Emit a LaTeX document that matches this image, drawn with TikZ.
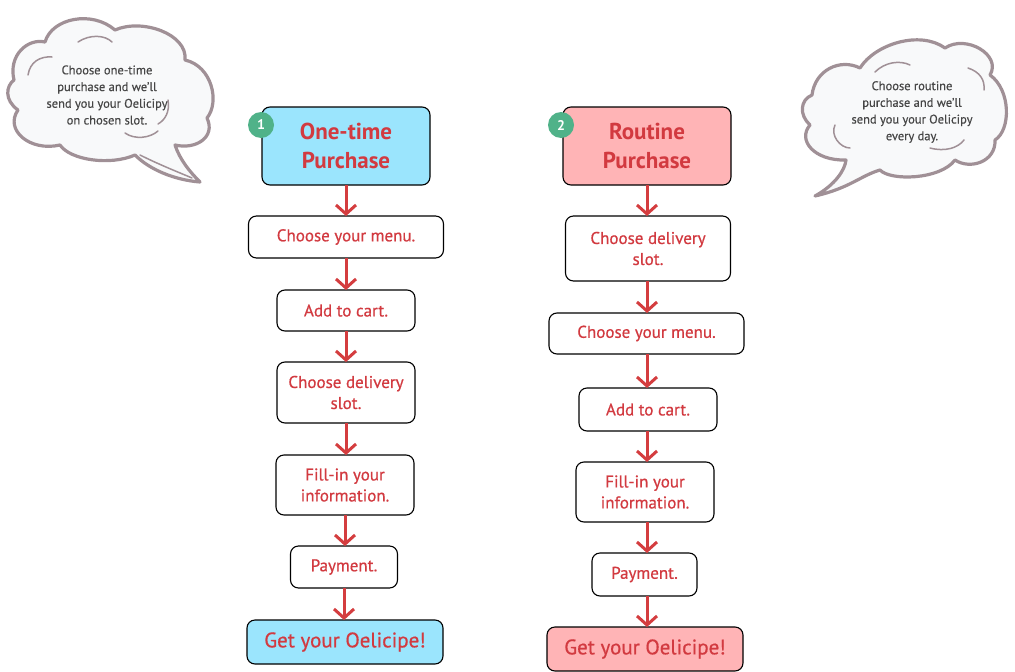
\documentclass[tikz,border=0pt]{standalone}
\usepackage{fontspec}
\setmainfont{PT Sans}
\usetikzlibrary{arrows.meta}
\definecolor{txtred}{RGB}{210,58,64}
\definecolor{arrred}{RGB}{212,61,63}
\definecolor{hblue}{RGB}{155,229,253}
\definecolor{hpink}{RGB}{255,180,182}
\definecolor{badge}{RGB}{80,178,137}
\definecolor{cloudline}{RGB}{160,144,150}
\definecolor{cloudfill}{RGB}{248,249,250}
\definecolor{cloudtxt}{RGB}{70,70,70}
\tikzset{
  stepbox/.style={draw=black, line width=1.1pt, rounded corners=8pt, fill=white,
    inner sep=0pt, outer sep=0pt, align=center, text=txtred,
    font=\addfontfeature{FakeBold=0.6}\fontsize{17}{21}\selectfont},
  headbox/.style={stepbox, font=\bfseries\fontsize{23}{29}\selectfont},
  endbox/.style={stepbox, font=\addfontfeature{FakeBold=0.6}\fontsize{21}{24}\selectfont},
  arr/.style={draw=arrred, line width=3pt, -{Straight Barb[length=9pt,width=20pt,line width=3pt]}},
  badgenode/.style={circle, fill=badge, text=white, inner sep=0pt, minimum size=26pt,
    font=\bfseries\fontsize{14}{14}\selectfont},
  cloudshape/.style={draw=cloudline, fill=cloudfill, line width=3.2pt, line join=round},
  cloudarc/.style={draw=cloudline, line width=1.5pt, line cap=round},
  cloudtext/.style={align=center, text=cloudtxt, font=\addfontfeature{FakeBold=0.4}\fontsize{12.5}{16.7}\selectfont}
}
\begin{document}
\begin{tikzpicture}[x=1pt,y=-1pt]
\useasboundingbox (0,0) rectangle (1015,672);

% ---- left cloud
\path[cloudshape] (14,80) .. controls (8,55) and (28,38) .. (45,42)
  .. controls (52,18) and (92,10) .. (115,30)
  .. controls (142,18) and (188,34) .. (185,60)
  .. controls (212,66) and (220,102) .. (207,118)
  .. controls (216,137) and (196,150) .. (175,145)
  .. controls (180,160) and (190,172) .. (200,182)
  .. controls (175,180) and (150,170) .. (135,155)
  .. controls (110,166) and (70,160) .. (60,145)
  .. controls (30,152) and (4,130) .. (18,110)
  .. controls (4,100) and (6,86) .. (14,80) -- cycle;
\draw[cloudarc] (28,75) .. controls (30,62) and (40,56) .. (52,57);
\draw[cloudarc] (78,42) .. controls (90,34) and (105,35) .. (112,42);
\draw[cloudarc] (168,100) .. controls (170,112) and (165,120) .. (158,124);
\draw[cloudarc] (125,133) .. controls (135,140) and (150,138) .. (158,131);
\draw[cloudarc] (140,155) .. controls (160,165) and (178,172) .. (192,178);
\node[cloudtext] (t1) at (107,95) {Choose one-time\\purchase and we'll\\send you your Oelicipy\\on chosen slot.};

% ---- right cloud
\path[cloudshape] (812,95) .. controls (815,70) and (840,58) .. (860,68)
  .. controls (875,44) and (920,30) .. (945,48)
  .. controls (966,34) and (1002,55) .. (990,75)
  .. controls (1011,90) and (1011,130) .. (995,140)
  .. controls (996,162) and (970,170) .. (955,160)
  .. controls (940,180) and (890,181) .. (880,170)
  .. controls (860,176) and (850,188) .. (815,196)
  .. controls (835,185) and (845,170) .. (846,160)
  .. controls (814,161) and (797,140) .. (810,125)
  .. controls (799,115) and (800,100) .. (812,95) -- cycle;
\draw[cloudarc] (875,72) .. controls (885,62) and (900,60) .. (910,65);
\draw[cloudarc] (968,68) .. controls (980,72) and (985,80) .. (984,90);
\draw[cloudarc] (835,125) .. controls (830,135) and (840,148) .. (850,148);
\draw[cloudarc] (930,148) .. controls (945,152) and (958,148) .. (964,140);
\node[cloudtext] (t2) at (912,112) {Choose routine\\purchase and we'll\\send you your Oelicipy\\every day.};

% ---- left column
\node[headbox, fill=hblue, minimum width=168pt, minimum height=78pt] (h1) at (346,146) {One-time\\Purchase};
\node[badgenode] (b1) at (261,125) {1};
\node[stepbox, minimum width=195pt, minimum height=42pt] (m1) at (346,237) {Choose your menu.};
\node[stepbox, minimum width=138pt, minimum height=41pt] (c1) at (346,310.5) {Add to cart.};
\node[stepbox, minimum width=138pt, minimum height=61pt] (d1) at (346,392.5) {Choose delivery\\slot.};
\node[stepbox, minimum width=138pt, minimum height=60pt] (f1) at (345,485) {Fill-in your\\information.};
\node[stepbox, minimum width=107pt, minimum height=42pt] (p1) at (344,567) {Payment.};
\node[endbox, fill=hblue, minimum width=196pt, minimum height=44pt] (g1) at (345,642) {Get your Oelicipe!};
\draw[arr] (h1.south) -- (m1.north);
\draw[arr] (m1.south) -- (c1.north);
\draw[arr] (c1.south) -- (d1.north);
\draw[arr] (d1.south) -- (d1.south |- f1.north);
\draw[arr] (f1.south) -- (f1.south |- p1.north);
\draw[arr] (p1.south) -- (p1.south |- g1.north);

% ---- right column
\node[headbox, fill=hpink, minimum width=168pt, minimum height=78pt] (h2) at (647,146) {Routine\\Purchase};
\node[badgenode] (b2) at (561,125) {2};
\node[stepbox, minimum width=165pt, minimum height=65pt] (d2) at (648,248.5) {Choose delivery\\slot.};
\node[stepbox, minimum width=195pt, minimum height=41pt] (m2) at (646.5,333.5) {Choose your menu.};
\node[stepbox, minimum width=138pt, minimum height=43pt] (c2) at (648,409.5) {Add to cart.};
\node[stepbox, minimum width=138pt, minimum height=60pt] (f2) at (645,492) {Fill-in your\\information.};
\node[stepbox, minimum width=105pt, minimum height=43pt] (p2) at (644.5,574.5) {Payment.};
\node[endbox, fill=hpink, minimum width=196pt, minimum height=44pt] (g2) at (645,649) {Get your Oelicipe!};
\draw[arr] (h2.south) -- (h2.south |- d2.north);
\draw[arr] (d2.south -| h2.south) -- (h2.south |- m2.north);
\draw[arr] (m2.south -| h2.south) -- (h2.south |- c2.north);
\draw[arr] (c2.south -| h2.south) -- (h2.south |- f2.north);
\draw[arr] (f2.south -| h2.south) -- (h2.south |- p2.north);
\draw[arr] (p2.south -| h2.south) -- (h2.south |- g2.north);
\end{tikzpicture}
\end{document}
